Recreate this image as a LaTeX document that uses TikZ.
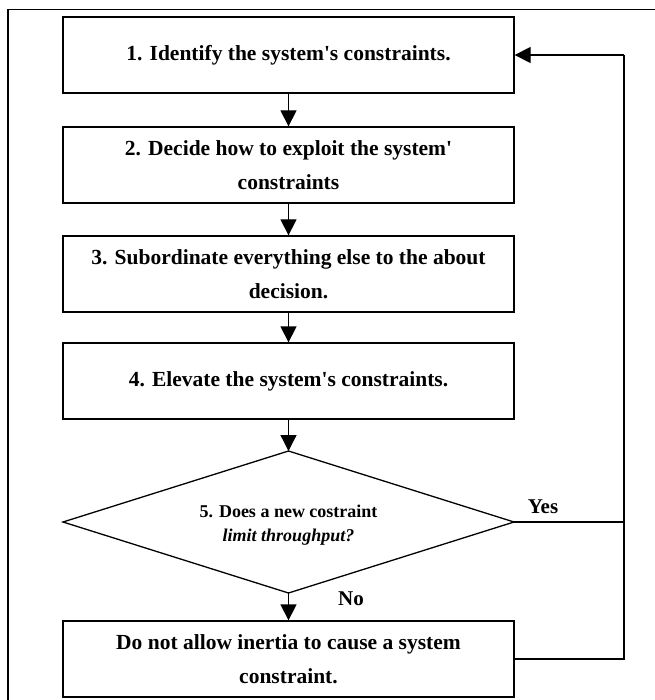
\documentclass[tikz,border=0pt]{standalone}
\usepackage{fontspec}
\setmainfont{Liberation Serif}[Ligatures=TeXOff]
\usetikzlibrary{arrows.meta,shapes.geometric}
\begin{document}
\begin{tikzpicture}[x=1pt,y=-1pt,
  line width=1.3pt,
  stepbox/.style={draw,minimum width=451pt,minimum height=76pt,inner sep=0pt,align=center,font=\fontsize{21.5}{34}\selectfont\bfseries},
  lbl/.style={font=\fontsize{21}{24}\selectfont\bfseries},
  arr/.style={-{Triangle[length=16pt,width=16pt]}}]
\useasboundingbox (0,0) rectangle (654,700);
\draw (8,710) -- (8,9.5) -- (660,9.5);
\node[stepbox] (b1) at (288.5,55) {1. Identify the system's constraints.};
\node[stepbox] (b2) at (288.5,165) {2. Decide how to exploit the system'\\constraints};
\node[stepbox] (b3) at (288.5,274) {3. Subordinate everything else to the about\\decision.};
\node[stepbox] (b4) at (288.5,381) {4. Elevate the system's constraints.};
\coordinate (dleft) at (63,522);
\coordinate (dtop) at (288.5,451);
\coordinate (dright) at (514,522);
\coordinate (dbot) at (288.5,593);
\draw (dleft) -- (dtop) -- (dright) -- (dbot) -- cycle;
\node[align=center,font=\fontsize{18}{24}\selectfont\bfseries] (t5) at (288.5,525) {5. Does a new costraint\\\itshape limit throughput?};
\node[stepbox] (b6) at (288.5,659) {Do not allow inertia to cause a system\\constraint.};
\coordinate (c1) at (624,55);
\coordinate (c2) at (624,522);
\coordinate (c3) at (624,659);
\draw[arr] (b1) -- (b2);
\draw[arr] (b2) -- (b3);
\draw[arr] (b3) -- (b4);
\draw[arr] (b4.south) -- (dtop);
\draw[arr] (dbot) -- (b6.north);
\draw (dright) -- (c2);
\draw (b6.east) -- (c3) -- (c1);
\draw[arr] (c1) -- (b1.east);
\node[lbl] (yes) at (543,507) {Yes};
\node[lbl] (no) at (351,599) {No};
\end{tikzpicture}
\end{document}
